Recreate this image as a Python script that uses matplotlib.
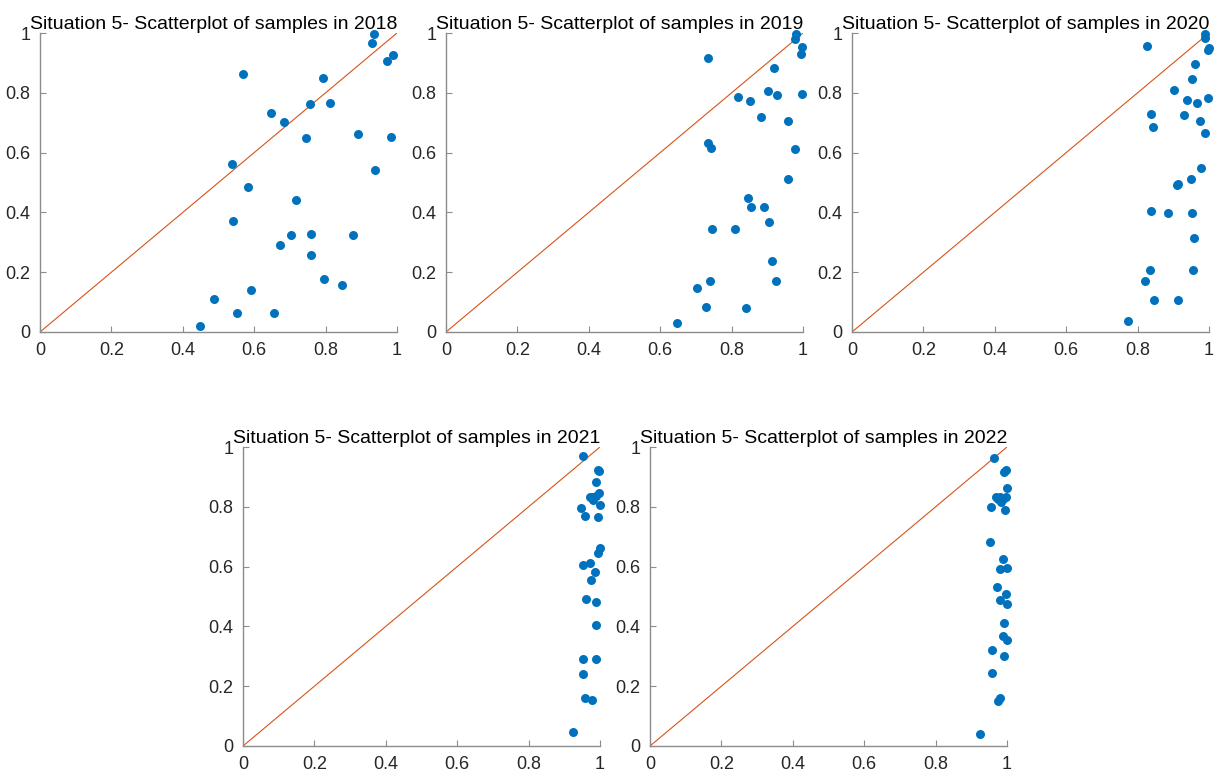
import matplotlib

matplotlib.use("Agg")
import matplotlib.pyplot as plt

plt.rcParams["font.family"] = ["Liberation Sans", "DejaVu Sans"]

# 每年的样本散点 (x, y)
years = [2018, 2019, 2020, 2021, 2022]

x_2018 = [0.936, 0.930, 0.988, 0.973, 0.568, 0.793, 0.755, 0.811, 0.646, 0.683,
          0.744, 0.890, 0.982, 0.537, 0.938, 0.582, 0.718, 0.540, 0.704, 0.760,
          0.878, 0.673, 0.758, 0.796, 0.846, 0.590, 0.488, 0.552, 0.655, 0.449]
y_2018 = [0.996, 0.965, 0.925, 0.905, 0.862, 0.848, 0.761, 0.765, 0.734, 0.703,
          0.648, 0.662, 0.653, 0.563, 0.543, 0.485, 0.441, 0.370, 0.323, 0.329,
          0.323, 0.292, 0.256, 0.176, 0.157, 0.140, 0.111, 0.064, 0.062, 0.021]

x_2019 = [0.980, 0.978, 0.998, 0.994, 0.734, 0.919, 0.901, 0.927, 0.996, 0.819,
          0.852, 0.882, 0.959, 0.733, 0.742, 0.978, 0.959, 0.847, 0.853, 0.891,
          0.906, 0.746, 0.810, 0.913, 0.739, 0.923, 0.703, 0.729, 0.841, 0.646]
y_2019 = [0.996, 0.980, 0.952, 0.931, 0.915, 0.883, 0.807, 0.794, 0.797, 0.786,
          0.771, 0.720, 0.707, 0.633, 0.614, 0.613, 0.511, 0.448, 0.419, 0.419,
          0.369, 0.343, 0.343, 0.239, 0.172, 0.172, 0.147, 0.082, 0.079, 0.031]

x_2020 = [0.990, 0.989, 0.825, 0.999, 0.996, 0.962, 0.951, 0.902, 0.938, 0.965,
          0.997, 0.838, 0.930, 0.975, 0.843, 0.989, 0.978, 0.950, 0.914, 0.910,
          0.838, 0.886, 0.952, 0.957, 0.836, 0.956, 0.821, 0.846, 0.912, 0.773]
y_2020 = [0.998, 0.982, 0.955, 0.950, 0.943, 0.897, 0.847, 0.808, 0.777, 0.765,
          0.783, 0.728, 0.725, 0.707, 0.686, 0.667, 0.547, 0.511, 0.496, 0.491,
          0.404, 0.398, 0.398, 0.316, 0.208, 0.208, 0.171, 0.108, 0.108, 0.038]

x_2021 = [0.951, 0.994, 0.996, 0.989, 0.972, 0.981, 0.990, 0.997, 0.979, 0.999,
          0.948, 0.959, 0.994, 0.999, 0.995, 0.951, 0.973, 0.987, 0.975, 0.961,
          0.989, 0.988, 0.951, 0.989, 0.951, 0.957, 0.978, 0.925]
y_2021 = [0.970, 0.923, 0.920, 0.884, 0.832, 0.834, 0.836, 0.845, 0.823, 0.806,
          0.797, 0.769, 0.765, 0.661, 0.644, 0.605, 0.611, 0.581, 0.555, 0.491,
          0.482, 0.404, 0.290, 0.290, 0.242, 0.159, 0.155, 0.047]

x_2022 = [0.963, 0.991, 0.998, 1.000, 0.969, 0.980, 0.988, 0.996, 0.984, 0.974,
          0.955, 0.995, 0.953, 0.990, 0.979, 0.999, 0.971, 0.996, 0.981, 0.999,
          0.991, 0.990, 0.999, 0.957, 0.991, 0.958, 0.981, 0.974, 0.925]
y_2022 = [0.964, 0.915, 0.922, 0.864, 0.834, 0.832, 0.827, 0.832, 0.817, 0.825,
          0.800, 0.790, 0.683, 0.627, 0.592, 0.596, 0.531, 0.509, 0.489, 0.476,
          0.410, 0.368, 0.353, 0.322, 0.301, 0.243, 0.162, 0.150, 0.041]

xs = [x_2018, x_2019, x_2020, x_2021, x_2022]
ys = [y_2018, y_2019, y_2020, y_2021, y_2022]

ticks = [0, 0.2, 0.4, 0.6, 0.8, 1]
tick_labels = ["0", "0.2", "0.4", "0.6", "0.8", "1"]

W, H = 1230, 776
# 像素坐标 (left, top) -> figure 坐标
boxes = [(40, 33), (446, 33), (852, 33), (243, 447), (650, 447)]
ax_w, ax_h = 357, 299

fig = plt.figure(figsize=(W / 100, H / 100), dpi=100)

for (left, top), year, x, y in zip(boxes, years, xs, ys):
    ax = fig.add_axes([left / W, 1 - (top + ax_h) / H, ax_w / W, ax_h / H])
    ax.plot([0, 1], [0, 1], color="#D95319", lw=0.8, zorder=1)
    ax.scatter(x, y, s=42, color="#0072BD", linewidths=0, zorder=2, clip_on=False)
    ax.set_xlim(0, 1)
    ax.set_ylim(0, 1)
    ax.set_xticks(ticks)
    ax.set_xticklabels(tick_labels)
    ax.set_yticks(ticks)
    ax.set_yticklabels(tick_labels)
    ax.spines["top"].set_visible(False)
    ax.spines["right"].set_visible(False)
    for side in ("left", "bottom"):
        ax.spines[side].set_color("#8c8c8c")
        ax.spines[side].set_linewidth(1.0)
    ax.tick_params(direction="in", length=4, width=0.8, color="#8c8c8c",
                   labelsize=13, labelcolor="#262626", pad=7)
    ax.set_title(f"Situation 5- Scatterplot of samples in {year}",
                 fontsize=14, color="black", pad=3, x=0.486)

fig.savefig("out.png", dpi=100)
